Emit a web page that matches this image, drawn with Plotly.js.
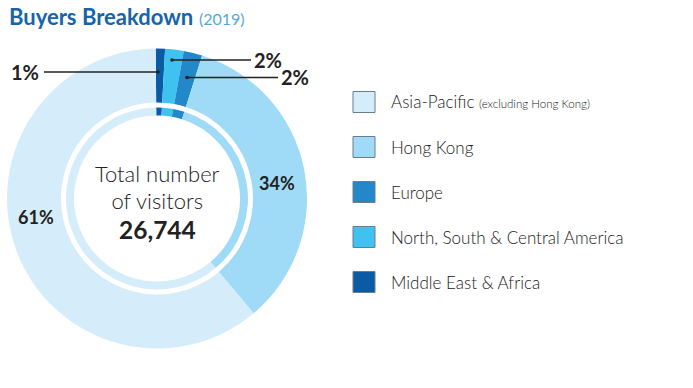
<!DOCTYPE html>
<html>
<head>
<meta charset="utf-8">
<script src="https://cdn.plot.ly/plotly-3.0.1.min.js"></script>
<style>html,body{margin:0;padding:0;background:#fff;}#chart{width:693px;height:388px;}</style>
</head>
<body>
<div id="chart"></div>
<script>
// Slice order (clockwise from 12 o'clock)
var regions = ['Middle East & Africa', 'North, South & Central America', 'Europe', 'Hong Kong', 'Asia-Pacific'];
var shares = [1, 2, 2, 34, 61];
var colors = ['#0b5aa6', '#3fc2ef', '#2288c9', '#9fdbf7', '#d5edfb'];
var shareLabels = ['1%', '2%', '2%', '34%', '61%'];

// Legend order
var legendNames = ['Asia-Pacific', 'Hong Kong', 'Europe', 'North, South & Central America', 'Middle East & Africa'];
var legendNotes = ['(excluding Hong Kong)', '', '', '', ''];

var centerLines = ['Total number', 'of visitors'];
var totalVisitors = '26,744';
var W = 693, H = 388;
function px(x) { return x / W; }
function py(y) { return 1 - y / H; }

var cx = 157, cy = 198.5, R = 150, Rin = 91;

var outer = {
  type: 'pie', values: shares, labels: regions, sort: false, direction: 'clockwise', rotation: -0.5,
  hole: 96 / R, textinfo: 'none', hoverinfo: 'label+percent', showlegend: false,
  marker: { colors: colors, line: { width: 0 } },
  domain: { x: [px(cx - R), px(cx + R)], y: [py(cy + R), py(cy - R)] }
};
var inner = {
  type: 'pie', values: shares, labels: regions, sort: false, direction: 'clockwise', rotation: -0.5,
  hole: 83 / Rin, textinfo: 'none', hoverinfo: 'label+percent', showlegend: false,
  marker: { colors: colors, line: { width: 0 } },
  domain: { x: [px(cx - Rin), px(cx + Rin)], y: [py(cy + Rin), py(cy - Rin)] }
};

var FONT = 'Lato, "Open Sans", sans-serif';
var annotations = [];
var shapes = [];

// Title
annotations.push({
  xref: 'paper', yref: 'paper', x: px(7), y: py(17), xanchor: 'left', yanchor: 'middle', showarrow: false,
  text: '<b>Buyers Breakdown</b> <span style="font-size:16px;color:#55a8da">(2019)</span>',
  font: { family: FONT, size: 22, color: '#1764a8' }
});

// Center text (two lines in one text, tight line spacing)
annotations.push({ xref: 'paper', yref: 'paper', x: px(cx), y: py(187), showarrow: false, xanchor: 'center', yanchor: 'middle',
  text: centerLines.map(function (t) { return '<span style="font-size:22px">' + t + '</span>'; }).join('<br>'),
  font: { family: FONT, size: 20.4, weight: 300, color: '#222' } });
annotations.push({ xref: 'paper', yref: 'paper', x: px(cx), y: py(229), showarrow: false, xanchor: 'center', yanchor: 'middle',
  text: '<b>' + totalVisitors + '</b>', font: { family: FONT, size: 24.5, color: '#222' } });

// Big slice labels
annotations.push({ xref: 'paper', yref: 'paper', x: px(277), y: py(183), showarrow: false, xanchor: 'center', yanchor: 'middle',
  text: '<b>' + shareLabels[3] + '</b>', font: { family: FONT, size: 18, color: '#222' } });
annotations.push({ xref: 'paper', yref: 'paper', x: px(36), y: py(217), showarrow: false, xanchor: 'center', yanchor: 'middle',
  text: '<b>' + shareLabels[4] + '</b>', font: { family: FONT, size: 18, color: '#222' } });

// Small slice labels with leader lines
var small = [
  { i: 0, tx: 25, ty: 72, x0: 44, x1: 158, y: 72 },
  { i: 1, tx: 268, ty: 60, x0: 172, x1: 251, y: 60 },
  { i: 2, tx: 295, ty: 77, x0: 187, x1: 278, y: 77.5 }
];
small.forEach(function (s) {
  annotations.push({ xref: 'paper', yref: 'paper', x: px(s.tx), y: py(s.ty), showarrow: false, xanchor: 'center', yanchor: 'middle',
    text: '<b>' + shareLabels[s.i] + '</b>', font: { family: FONT, size: 20, color: '#222' } });
  shapes.push({ type: 'line', xref: 'paper', yref: 'paper', x0: px(s.x0), x1: px(s.x1), y0: py(s.y), y1: py(s.y),
    line: { color: '#222', width: 1.3 } });
  var d = s.i === 0 ? s.x1 : s.x0;
  shapes.push({ type: 'circle', xref: 'paper', yref: 'paper', x0: px(d - 1.8), x1: px(d + 1.8), y0: py(s.y + 1.8), y1: py(s.y - 1.8),
    fillcolor: '#222', line: { width: 0 } });
});

// Legend
legendNames.forEach(function (name, k) {
  var yc = 102 + 45 * k;
  var ci = regions.indexOf(name);
  shapes.push({ type: 'rect', xref: 'paper', yref: 'paper', x0: px(353), x1: px(375), y0: py(yc + 10.5), y1: py(yc - 10.5),
    fillcolor: colors[ci], line: { color: '#6b7d88', width: 1 } });
  var txt = name + (legendNotes[k] ? ' <span style="font-size:11.5px">' + legendNotes[k] + '</span>' : '');
  annotations.push({ xref: 'paper', yref: 'paper', x: px(389), y: py(yc), showarrow: false, xanchor: 'left', yanchor: 'middle',
    text: txt, font: { family: FONT, size: 17, weight: 300, color: '#222' } });
});

var layout = {
  width: W, height: H, margin: { l: 0, r: 0, t: 0, b: 0 },
  paper_bgcolor: '#fff', plot_bgcolor: '#fff', showlegend: false,
  annotations: annotations, shapes: shapes
};
Plotly.newPlot('chart', [outer, inner], layout, { displayModeBar: false, staticPlot: true });
</script>
</body>
</html>
